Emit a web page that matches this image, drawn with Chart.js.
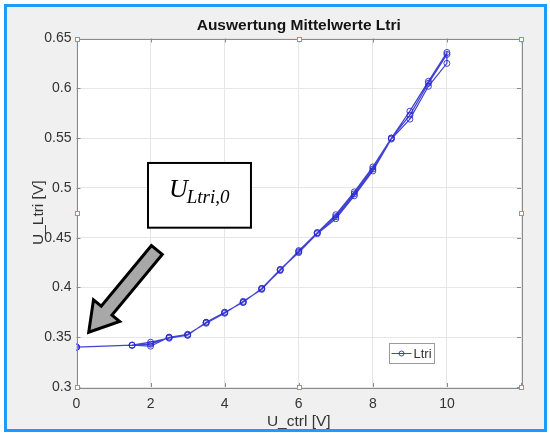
<!DOCTYPE html>
<html>
<head>
<meta charset="utf-8">
<script src="https://cdn.jsdelivr.net/npm/chart.js@4.4.1/dist/chart.umd.min.js"></script>
<style>
  html, body { margin: 0; padding: 0; background: #ffffff; }
  #frame { position: absolute; left: 4px; top: 4px; width: 537px; height: 422px;
           border: 3px solid #1b9bfa; background: #f0f0f0; }
  #wrap { position: absolute; left: 0; top: 0; width: 550px; height: 435px; }
</style>
</head>
<body>
<div id="frame"></div>
<div id="wrap"><canvas id="c" width="550" height="435"></canvas></div>
<script>
// Control voltage steps (V)
const ctrlVoltage = [0, 1.5, 2, 2.5, 3, 3.5, 4, 4.5, 5, 5.5, 6, 6.5, 7, 7.5, 8, 8.5, 9, 9.5, 10];
// Mean U_Ltri (V) for each pass over the control voltage
const sweepUp1  = [0.340, 0.342, 0.345, 0.349, 0.352, 0.365, 0.375, 0.385, 0.399, 0.417, 0.437, 0.455, 0.473, 0.496, 0.521, 0.550, 0.577, 0.607, 0.636];
const sweepDown = [0.340, 0.342, 0.341, 0.350, 0.353, 0.364, 0.374, 0.386, 0.398, 0.418, 0.435, 0.454, 0.469, 0.492, 0.517, 0.549, 0.569, 0.602, 0.625];
const sweepUp2  = [0.340, 0.342, 0.343, 0.350, 0.352, 0.365, 0.375, 0.385, 0.399, 0.418, 0.436, 0.455, 0.471, 0.494, 0.519, 0.550, 0.573, 0.605, 0.634];

const xTicks = [0, 2, 4, 6, 8, 10, 12];
const yTicks = [0.3, 0.35, 0.4, 0.45, 0.5, 0.55, 0.6, 0.65];

const seriesName = 'Ltri';
const chartTitle = 'Auswertung Mittelwerte Ltri';
const xTitle = 'U_ctrl [V]';
const yTitle = 'U_Ltri [V]';

// Annotation (in axis units): label box and arrow toward the start value
const noteBox = { x0: 1.93, x1: 4.71, y0: 0.525, y1: 0.460 };
const noteArrow = { fromX: 2.17, fromY: 0.4376, toX: 0.33, toY: 0.355 };
// Legend box (in axis units)
const legendBox = { x0: 8.44, x1: 9.66, y0: 0.3442, y1: 0.3241 };

// one continuous trace: up, down, up again
const trace = [];
ctrlVoltage.forEach((v, i) => trace.push({ x: v, y: sweepUp1[i] }));
for (let i = ctrlVoltage.length - 1; i >= 0; i--) trace.push({ x: ctrlVoltage[i], y: sweepDown[i] });
ctrlVoltage.forEach((v, i) => trace.push({ x: v, y: sweepUp2[i] }));

const lineColor = 'rgba(40,40,205,0.88)';
const axisColor = '#8a8a8a';
const textColor = '#333333';
const FONT = '"Liberation Sans", Arial, Helvetica, sans-serif';

const decor = {
  id: 'decor',
  beforeDraw(chart) {
    const { ctx, chartArea: a } = chart;
    ctx.save();
    ctx.fillStyle = '#ffffff';
    ctx.fillRect(a.left, a.top, a.right - a.left, a.bottom - a.top);
    ctx.restore();
  },
  afterDatasetsDraw(chart) {
    const { ctx, chartArea: a, scales: { x, y } } = chart;
    ctx.save();
    // title, centred over the axes
    ctx.fillStyle = '#141414';
    ctx.font = 'bold 15.5px ' + FONT;
    ctx.textAlign = 'center';
    ctx.textBaseline = 'middle';
    ctx.fillText(chartTitle, (a.left + a.right) / 2, a.top - 13);

    // axes box
    ctx.strokeStyle = axisColor;
    ctx.lineWidth = 1;
    ctx.strokeRect(Math.round(a.left) + 0.5, Math.round(a.top) + 0.5,
                   Math.round(a.right - a.left), Math.round(a.bottom - a.top));
    // inward tick marks on all four sides
    const tl = 4;
    ctx.beginPath();
    xTicks.forEach(v => {
      const px = Math.round(x.getPixelForValue(v)) + 0.5;
      ctx.moveTo(px, a.bottom); ctx.lineTo(px, a.bottom - tl);
      ctx.moveTo(px, a.top); ctx.lineTo(px, a.top + tl);
    });
    yTicks.forEach(v => {
      const py = Math.round(y.getPixelForValue(v)) + 0.5;
      ctx.moveTo(a.left, py); ctx.lineTo(a.left + tl, py);
      ctx.moveTo(a.right, py); ctx.lineTo(a.right - tl, py);
    });
    ctx.stroke();

    // selection handles
    const mx = (a.left + a.right) / 2, my = (a.top + a.bottom) / 2;
    const handles = [[a.left, a.top], [mx, a.top], [a.right, a.top], [a.left, my],
                     [a.right, my], [a.left, a.bottom], [mx, a.bottom], [a.right, a.bottom]];
    ctx.strokeStyle = '#6f9fcc';
    ctx.fillStyle = '#ffffff';
    handles.forEach(([hx, hy]) => {
      ctx.fillRect(Math.round(hx) - 2, Math.round(hy) - 2, 4, 4);
      ctx.strokeRect(Math.round(hx) - 1.5, Math.round(hy) - 1.5, 4, 4);
    });

    // annotation box
    const bx0 = x.getPixelForValue(noteBox.x0), bx1 = x.getPixelForValue(noteBox.x1);
    const by0 = y.getPixelForValue(noteBox.y0), by1 = y.getPixelForValue(noteBox.y1);
    ctx.fillStyle = '#ffffff';
    ctx.fillRect(bx0, by0, bx1 - bx0, by1 - by0);
    ctx.strokeStyle = '#000000';
    ctx.lineWidth = 2;
    ctx.strokeRect(bx0, by0, bx1 - bx0, by1 - by0);
    ctx.fillStyle = '#000000';
    ctx.textBaseline = 'alphabetic';
    ctx.textAlign = 'left';
    ctx.font = 'italic 26px "Liberation Serif", "DejaVu Serif", serif';
    const ux = bx0 + 21, uy = by0 + 34;
    ctx.fillText('U', ux, uy);
    const uw = ctx.measureText('U').width;
    ctx.font = 'italic 19px "Liberation Serif", "DejaVu Serif", serif';
    ctx.fillText('Ltri,0', ux + uw - 1, uy + 6);

    // block arrow
    const tx = x.getPixelForValue(noteArrow.fromX), ty = y.getPixelForValue(noteArrow.fromY);
    const px = x.getPixelForValue(noteArrow.toX), py = y.getPixelForValue(noteArrow.toY);
    const len = Math.hypot(px - tx, py - ty);
    const dx = (px - tx) / len, dy = (py - ty) / len;
    const nx = -dy, ny = dx;
    const sw = 7, hw = 17, hl = 28;
    const hx = px - dx * hl, hy = py - dy * hl;
    ctx.beginPath();
    ctx.moveTo(tx + nx * sw, ty + ny * sw);
    ctx.lineTo(hx + nx * sw, hy + ny * sw);
    ctx.lineTo(hx + nx * hw, hy + ny * hw);
    ctx.lineTo(px, py);
    ctx.lineTo(hx - nx * hw, hy - ny * hw);
    ctx.lineTo(hx - nx * sw, hy - ny * sw);
    ctx.lineTo(tx - nx * sw, ty - ny * sw);
    ctx.closePath();
    ctx.fillStyle = '#a8a8a8';
    ctx.fill();
    ctx.lineWidth = 3;
    ctx.lineJoin = 'miter';
    ctx.strokeStyle = '#000000';
    ctx.stroke();

    // legend
    const lx0 = x.getPixelForValue(legendBox.x0), lx1 = x.getPixelForValue(legendBox.x1);
    const ly0 = y.getPixelForValue(legendBox.y0), ly1 = y.getPixelForValue(legendBox.y1);
    const L = Math.round(lx0) + 0.5, T = Math.round(ly0) + 0.5;
    const W = Math.round(lx1 - lx0), H = Math.round(ly1 - ly0);
    ctx.fillStyle = '#ffffff';
    ctx.fillRect(L, T, W, H);
    ctx.strokeStyle = '#9a9a9a';
    ctx.lineWidth = 1;
    ctx.strokeRect(L, T, W, H);
    const cy = T + H / 2;
    ctx.strokeStyle = lineColor;
    ctx.beginPath();
    ctx.moveTo(L + 2, cy); ctx.lineTo(L + 22, cy);
    ctx.stroke();
    ctx.beginPath();
    ctx.arc(L + 12, cy, 2.5, 0, Math.PI * 2);
    ctx.stroke();
    ctx.fillStyle = textColor;
    ctx.font = '13px ' + FONT;
    ctx.textBaseline = 'middle';
    ctx.fillText(seriesName, L + 24, cy + 0.5);
    ctx.restore();
  }
};

new Chart(document.getElementById('c'), {
  type: 'scatter',
  data: {
    datasets: [{
      label: seriesName,
      data: trace,
      showLine: true,
      borderColor: lineColor,
      borderWidth: 1.2,
      pointStyle: 'circle',
      pointRadius: 3,
      pointBorderWidth: 1,
      pointBorderColor: lineColor,
      pointBackgroundColor: 'rgba(0,0,0,0)',
      tension: 0
    }]
  },
  options: {
    responsive: false,
    animation: false,
    layout: { padding: { top: 38.5, right: 29, left: 0, bottom: 0 } },
    plugins: {
      legend: { display: false },
      tooltip: { enabled: false },
      title: { display: false }
    },
    scales: {
      x: {
        type: 'linear',
        min: 0, max: 12,
        afterBuildTicks: s => { s.ticks = xTicks.map(v => ({ value: v })); },
        afterFit: s => { s.height = 48; },
        grid: { color: '#e6e6e6', drawTicks: false },
        border: { display: false },
        ticks: {
          color: textColor,
          font: { family: FONT, size: 14 },
          padding: 9,
          maxRotation: 0,
          callback: v => (v === 12 ? '' : String(v))
        },
        title: {
          display: true, text: xTitle, color: textColor,
          font: { family: FONT, size: 15.5 },
          padding: { top: 0, bottom: 4 }
        }
      },
      y: {
        type: 'linear',
        min: 0.3, max: 0.65,
        afterBuildTicks: s => { s.ticks = yTicks.map(v => ({ value: v })); },
        afterFit: s => { s.width = 76.5; },
        grid: { color: '#e6e6e6', drawTicks: false },
        border: { display: false },
        ticks: {
          color: textColor,
          font: { family: FONT, size: 14 },
          padding: 5,
          callback: v => String(parseFloat(Number(v).toFixed(2)))
        },
        title: {
          display: true, text: yTitle, color: textColor,
          font: { family: FONT, size: 15.5 },
          padding: { top: 29, bottom: 0 }
        }
      }
    }
  },
  plugins: [decor]
});
</script>
</body>
</html>
